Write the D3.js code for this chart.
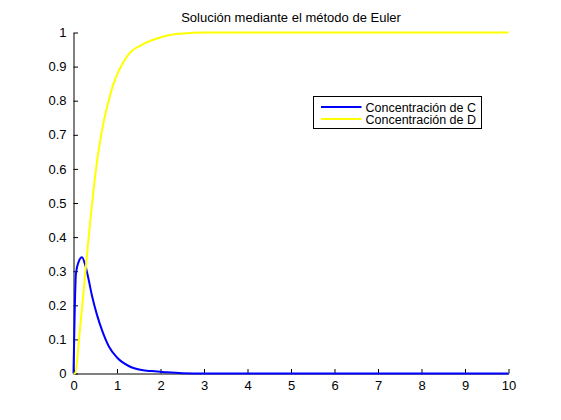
<!DOCTYPE html>
<html>
<head>
<meta charset="utf-8">
<script src="https://cdn.jsdelivr.net/npm/d3@7"></script>
<style>
  body { margin: 0; background: #fff; }
  svg { font-family: "Liberation Sans", Arial, sans-serif; }
</style>
</head>
<body>
<div class="chart"></div>
<script>
// values
const tC = [0, 0.03, 0.057, 0.12, 0.195, 0.27, 0.35, 0.425, 0.54, 0.655, 0.81, 1.0, 1.27, 1.57, 1.8, 2.1, 2.5, 3, 4, 5, 6, 7, 8, 9, 10];
const concC = [0, 0.196, 0.294, 0.328, 0.341, 0.318, 0.274, 0.228, 0.172, 0.127, 0.08, 0.047, 0.022, 0.01, 0.007, 0.004, 0.001, 0, 0, 0, 0, 0, 0, 0, 0];

const tD = [0, 0.04, 0.13, 0.21, 0.29, 0.35, 0.4, 0.48, 0.55, 0.6, 0.7, 0.8, 0.9, 1.05, 1.26, 1.57, 1.95, 2.4, 2.75, 3, 4, 5, 6, 7, 8, 9, 10];
const concD = [0, 0, 0.105, 0.21, 0.32, 0.4, 0.465, 0.56, 0.63, 0.672, 0.742, 0.795, 0.842, 0.89, 0.935, 0.964, 0.984, 0.996, 0.999, 1, 1, 1, 1, 1, 1, 1, 1];

const xTicks = [0, 1, 2, 3, 4, 5, 6, 7, 8, 9, 10];
const yTicks = [0, 0.1, 0.2, 0.3, 0.4, 0.5, 0.6, 0.7, 0.8, 0.9, 1];
const seriesNames = ["Concentración de C", "Concentración de D"];
const seriesColors = ["#0000ff", "#ffff00"];
const title = "Solución mediante el método de Euler";

const W = 561, H = 420;
const plot = { left: 73.5, right: 508.5, top: 32.5, bottom: 373.5 };

const svg = d3.select(".chart")
  .append("svg")
  .attr("width", W)
  .attr("height", H);

const x = d3.scaleLinear().domain([0, 10]).range([plot.left, plot.right]);
const y = d3.scaleLinear().domain([0, 1]).range([plot.bottom, plot.top]);

// axes (box off, ticks pointing inward)
const xAxis = svg.append("g")
  .attr("transform", `translate(0, ${plot.bottom})`)
  .call(d3.axisBottom(x).tickValues(xTicks).tickSizeInner(-4.5).tickSizeOuter(0).tickPadding(7).tickFormat(d3.format("d")));

const yAxis = svg.append("g")
  .attr("transform", `translate(${plot.left}, 0)`)
  .call(d3.axisLeft(y).tickValues(yTicks).tickSizeInner(-4.5).tickSizeOuter(0).tickPadding(7).tickFormat(d => d3.format("~g")(d)));

[xAxis, yAxis].forEach(g => {
  g.attr("font-family", null).attr("font-size", null);
  g.selectAll("text").attr("fill", "#000").style("font-size", "13px");
  g.selectAll("line, path").attr("stroke", "#000").attr("stroke-width", 1);
});

// curves
const line = d3.line()
  .x(d => x(d[0]))
  .y(d => y(d[1]))
  .curve(d3.curveMonotoneX);

const series = [
  d3.zip(tC, concC),
  d3.zip(tD, concD)
];

svg.selectAll(".curve")
  .data(series)
  .enter()
  .append("path")
  .attr("class", "curve")
  .attr("fill", "none")
  .attr("stroke", (d, i) => seriesColors[i])
  .attr("stroke-width", 2)
  .attr("stroke-linejoin", "round")
  .attr("d", line);

// title
svg.append("text")
  .attr("x", (plot.left + plot.right) / 2)
  .attr("y", 22)
  .attr("text-anchor", "middle")
  .style("font-size", "13px")
  .text(title);

// legend
const legend = svg.append("g").attr("transform", "translate(313.5, 96.5)");
legend.append("rect")
  .attr("width", 168)
  .attr("height", 32)
  .attr("fill", "#fff")
  .attr("stroke", "#000")
  .attr("stroke-width", 1);

const items = legend.selectAll(".item")
  .data(seriesNames)
  .enter()
  .append("g")
  .attr("class", "item")
  .attr("transform", (d, i) => `translate(0, ${10.5 + i * 12})`);

items.append("line")
  .attr("x1", 7.5)
  .attr("x2", 48)
  .attr("stroke", (d, i) => seriesColors[i])
  .attr("stroke-width", 2);

items.append("text")
  .attr("x", 52)
  .attr("y", 5)
  .style("font-size", "12.5px")
  .text(d => d);
</script>
</body>
</html>
